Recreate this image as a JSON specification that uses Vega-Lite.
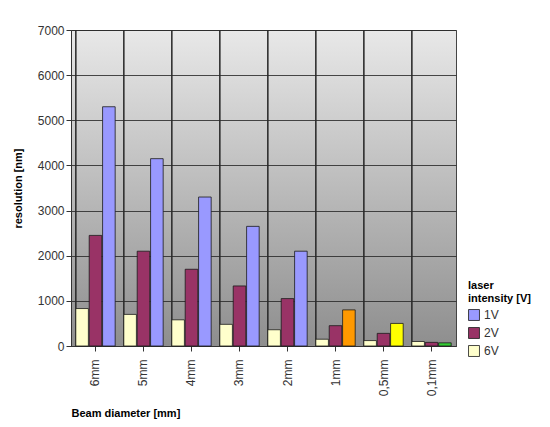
{
  "$schema": "https://vega.github.io/schema/vega-lite/v6.json",
  "width": 385,
  "height": 316,
  "autosize": {"type": "pad"},
  "padding": {"left": 12, "right": 8, "top": 24, "bottom": 10},
  "background": "white",
  "config": {
    "font": "Liberation Sans",
    "view": {
      "stroke": "#444",
      "strokeWidth": 1,
      "fill": {
        "gradient": "linear",
        "x1": 0, "y1": 0, "x2": 0, "y2": 1,
        "stops": [
          {"offset": 0, "color": "#e8e8e8"},
          {"offset": 1, "color": "#8e8e8e"}
        ]
      }
    },
    "axis": {
      "labelFont": "Liberation Sans",
      "labelFontSize": 12,
      "labelColor": "#333333",
      "titleFont": "Liberation Sans",
      "titleFontSize": 11,
      "titleFontWeight": "bold",
      "titleColor": "#000000",
      "domainColor": "#333333",
      "tickColor": "#333333",
      "gridColor": "#2a2a2a",
      "gridOpacity": 0.85,
      "gridWidth": 1
    },
    "legend": {
      "labelFont": "Liberation Sans",
      "labelFontSize": 12,
      "labelColor": "#333333",
      "titleFont": "Liberation Sans",
      "titleFontSize": 11,
      "titleFontWeight": "bold",
      "titleColor": "#000000"
    }
  },
  "data": {
    "values": [
      {"diameter": "6mm", "intensity": "1V", "resolution": 5300},
      {"diameter": "5mm", "intensity": "1V", "resolution": 4150},
      {"diameter": "4mm", "intensity": "1V", "resolution": 3300},
      {"diameter": "3mm", "intensity": "1V", "resolution": 2650},
      {"diameter": "2mm", "intensity": "1V", "resolution": 2100},
      {"diameter": "1mm", "intensity": "1V", "resolution": 800},
      {"diameter": "0,5mm", "intensity": "1V", "resolution": 500},
      {"diameter": "0,1mm", "intensity": "1V", "resolution": 70},
      {"diameter": "6mm", "intensity": "2V", "resolution": 2450},
      {"diameter": "5mm", "intensity": "2V", "resolution": 2100},
      {"diameter": "4mm", "intensity": "2V", "resolution": 1700},
      {"diameter": "3mm", "intensity": "2V", "resolution": 1330},
      {"diameter": "2mm", "intensity": "2V", "resolution": 1050},
      {"diameter": "1mm", "intensity": "2V", "resolution": 450},
      {"diameter": "0,5mm", "intensity": "2V", "resolution": 280},
      {"diameter": "0,1mm", "intensity": "2V", "resolution": 80},
      {"diameter": "6mm", "intensity": "6V", "resolution": 830},
      {"diameter": "5mm", "intensity": "6V", "resolution": 700},
      {"diameter": "4mm", "intensity": "6V", "resolution": 580},
      {"diameter": "3mm", "intensity": "6V", "resolution": 480},
      {"diameter": "2mm", "intensity": "6V", "resolution": 360},
      {"diameter": "1mm", "intensity": "6V", "resolution": 150},
      {"diameter": "0,5mm", "intensity": "6V", "resolution": 120},
      {"diameter": "0,1mm", "intensity": "6V", "resolution": 100}
    ]
  },
  "encoding": {
    "x": {
      "field": "diameter",
      "type": "ordinal",
      "sort": ["6mm", "5mm", "4mm", "3mm", "2mm", "1mm", "0,5mm", "0,1mm"],
      "scale": {"paddingInner": 0.18, "paddingOuter": 0.1},
      "axis": {
        "title": "Beam diameter [mm]",
        "labelAngle": -90,
        "labelPadding": 8,
        "ticks": true,
        "grid": false,
        "titlePadding": 12,
        "titleAnchor": "start"
      }
    }
  },
  "layer": [
    {
      "mark": {"type": "rule", "color": "#2a2a2a", "strokeWidth": 1, "opacity": 0.85},
      "encoding": {
        "x": {
          "field": "diameter",
          "type": "ordinal",
          "sort": ["6mm", "5mm", "4mm", "3mm", "2mm", "1mm", "0,5mm", "0,1mm"],
          "bandPosition": 0
        }
      }
    },
    {
      "mark": {"type": "bar", "stroke": "#1a1a1a", "strokeWidth": 0.8},
      "encoding": {
        "xOffset": {
          "field": "intensity",
          "type": "nominal",
          "sort": ["6V", "2V", "1V"],
          "scale": {"paddingInner": 0.06}
        },
        "y": {
          "field": "resolution",
          "type": "quantitative",
          "scale": {"domain": [0, 7000]},
          "axis": {
            "title": "resolution [nm]",
            "values": [0, 1000, 2000, 3000, 4000, 5000, 6000, 7000],
            "format": "d",
            "labelOverlap": false,
            "grid": true,
            "titlePadding": 14
          }
        },
        "color": {
          "condition": [
            {"test": "datum.intensity === '1V' && datum.diameter === '1mm'", "value": "#FF9900"},
            {"test": "datum.intensity === '1V' && datum.diameter === '0,5mm'", "value": "#FFFF00"},
            {"test": "datum.intensity === '1V' && datum.diameter === '0,1mm'", "value": "#33CC33"}
          ],
          "field": "intensity",
          "type": "nominal",
          "scale": {
            "domain": ["1V", "2V", "6V"],
            "range": ["#9999FF", "#993366", "#FFFFCC"]
          },
          "legend": {
            "title": ["laser", "intensity [V]"],
            "orient": "none",
            "legendX": 397,
            "legendY": 250,
            "symbolType": "square",
            "symbolSize": 120,
            "symbolStrokeColor": "#1a1a1a",
            "symbolStrokeWidth": 0.8
          }
        }
      }
    }
  ]
}
